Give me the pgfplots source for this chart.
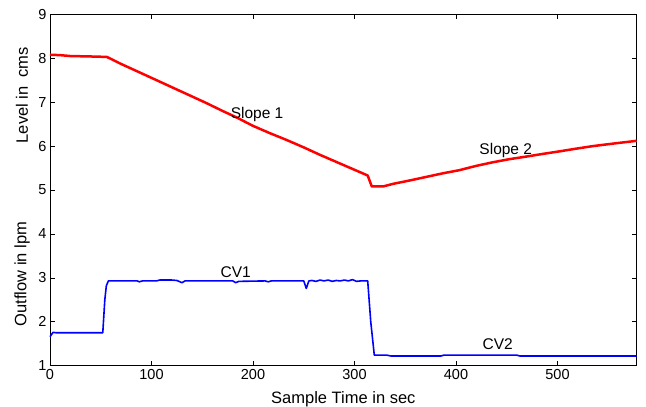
\documentclass[border=0pt]{standalone}
\usepackage{fontspec}
\setmainfont{Liberation Sans}
\usepackage{pgfplots}
\pgfplotsset{compat=1.18}
\begin{document}
\begin{tikzpicture}
\begin{axis}[
    scale only axis,
    width=586.7pt, height=351.4pt,
    xmin=0, xmax=578, ymin=1, ymax=9,
    xtick={0,100,...,500}, ytick={1,2,...,9},
    tick align=inside,
    major tick length=5pt,
    tick style={black, line width=0.6pt},
    axis line style={line width=0.8pt},
    font=\fontsize{15.5}{18}\selectfont,
    tick label style={font=\fontsize{14.5}{17}\selectfont},
    /pgf/number format/assume math mode=true,
    xlabel={Sample Time in sec},
    xlabel style={font=\fontsize{16.5}{19}\selectfont, yshift=-5pt},
    clip=false,
]
\addplot[red, line width=2.5pt, line join=round] coordinates {
(0,8.08) (10,8.07) (20,8.05) (40,8.04) (56,8.03) (70,7.87) (88,7.68) (105,7.50)
(121,7.33) (138,7.15) (154,6.98) (170,6.80) (184,6.65) (200,6.46) (216,6.30)
(233,6.14) (250,5.97) (266,5.80) (282,5.64) (298,5.48) (313,5.33) (317,5.08)
(328,5.08) (338,5.14) (355,5.22) (371,5.30) (387,5.38) (403,5.45) (420,5.55)
(436,5.63) (452,5.70) (469,5.76) (485,5.82) (502,5.88) (518,5.94) (535,6.00)
(556,6.06) (578,6.12)
};
\addplot[blue, line width=1.6pt, line join=round] coordinates {
(0,1.66) (3,1.76) (6,1.75) (52,1.75) (54,2.5) (55.5,2.82) (57.5,2.93) (86,2.93)
(88,2.91) (91,2.93) (105,2.93) (108,2.95) (120,2.95) (125,2.94) (130,2.89)
(133,2.93) (180,2.93) (183,2.89) (186,2.92) (212,2.93) (215,2.91) (218,2.93)
(250,2.93) (252.5,2.76) (255,2.93) (258,2.94) (262,2.92) (266,2.95) (270,2.93)
(274,2.95) (278,2.92) (282,2.94) (286,2.93) (290,2.95) (294,2.93) (298,2.96)
(302,2.92) (306,2.93) (313,2.93) (316,2.0) (319.5,1.24) (332,1.24) (336,1.22)
(385,1.22) (388,1.24) (460,1.24) (463,1.22) (578,1.22)
};
\node at (axis cs:204,6.71) {Slope 1};
\node at (axis cs:449,5.90) {Slope 2};
\node at (axis cs:183,3.14) {CV1};
\node at (axis cs:441,1.50) {CV2};
\node[rotate=90, font=\fontsize{16.5}{19}\selectfont] at ([xshift=-28pt]axis description cs:0,0.770) {Level in\ \ cms};
\node[rotate=90, font=\fontsize{16.5}{19}\selectfont] at ([xshift=-28pt]axis description cs:0,0.261) {Outflow in lpm};
\end{axis}
\pgfresetboundingbox
\path (-50pt,-41.3pt) rectangle (596pt,365.7pt);
\end{tikzpicture}
\end{document}
